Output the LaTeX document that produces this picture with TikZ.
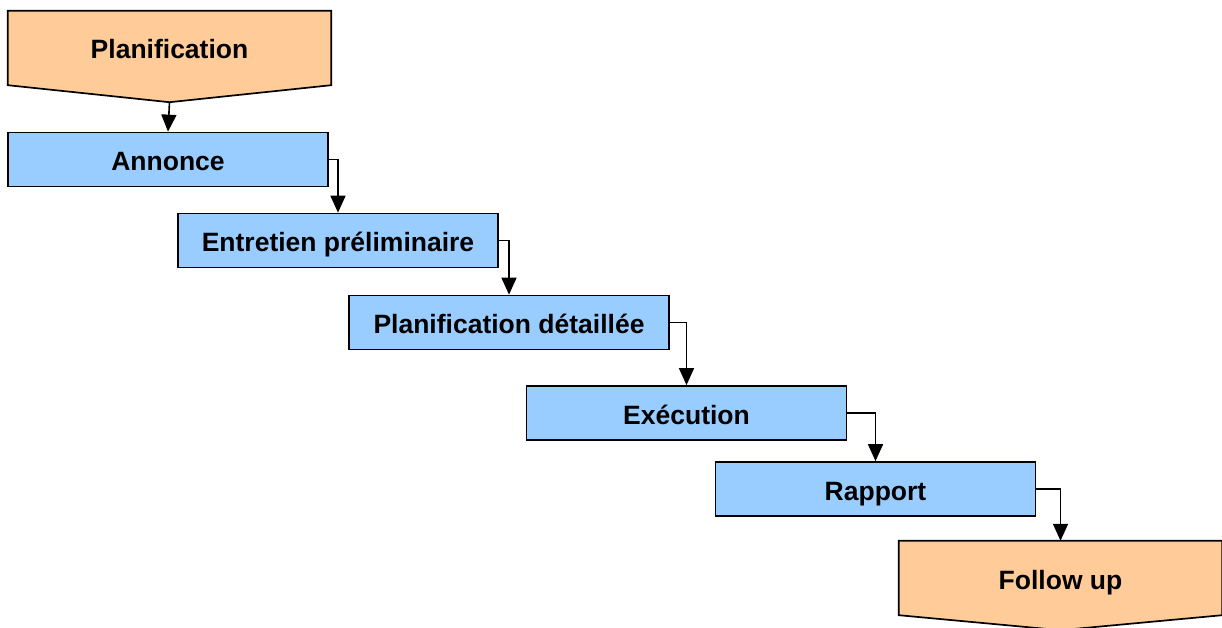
\documentclass[tikz,border=0pt]{standalone}
\usepackage{fontspec}
\setmainfont{Liberation Sans}
\usetikzlibrary{arrows.meta,calc}
\pgfdeclarelayer{bg}
\pgfsetlayers{bg,main}
\definecolor{boxblue}{HTML}{99CCFF}
\definecolor{boxorange}{HTML}{FFCC99}
\begin{document}
\begin{tikzpicture}[x=1pt,y=-1pt,
  txt/.style={font=\fontsize{26.5}{30}\selectfont\bfseries, text height=22pt, text depth=0pt},
  stepbox/.style={txt, draw=black, line width=1.7pt, fill=boxblue,
    minimum width=320pt, minimum height=54pt, inner sep=0pt},
  penta/.style={txt, minimum width=323pt, minimum height=74pt, inner sep=0pt},
  pentaline/.style={draw=black, line width=1.7pt, fill=boxorange, line join=miter},
  conn/.style={draw=black, line width=1.6pt, -{Triangle[length=17pt,width=15pt]}}]
\useasboundingbox (0,0) rectangle (1222,628);
% nodes
\node[penta] (plan) at (169.5,48) {Planification};
\node[stepbox] (ann) at (168,159.5) {Annonce};
\node[stepbox] (entr) at (338,240.5) {Entretien préliminaire};
\node[stepbox] (pd) at (509,322.5) {Planification détaillée};
\node[stepbox] (exe) at (686.5,413) {Exécution};
\node[stepbox] (rap) at (875.5,489) {Rapport};
\node[penta] (fol) at (1060.5,578) {Follow up};
% pentagon outlines
\begin{pgfonlayer}{bg}
\draw[pentaline] (plan.north west) -- (plan.north east) -- (plan.south east)
  -- ($(plan.south)+(0,17)$) -- (plan.south west) -- cycle;
\draw[pentaline] (fol.north west) -- (fol.north east) -- (fol.south east)
  -- ($(fol.south)+(0,15)$) -- (fol.south west) -- cycle;
\end{pgfonlayer}
% connectors
\coordinate (plantip) at ($(plan.south)+(0,17)$);
\draw[conn] (plantip) -- (ann.north);
\draw[conn] (ann.east) -| (entr.north);
\draw[conn] (entr.east) -| (pd.north);
\draw[conn] (pd.east) -| (exe.north);
\draw[conn] (exe.east) -| (rap.north);
\draw[conn] (rap.east) -| (fol.north);
\end{tikzpicture}
\end{document}
